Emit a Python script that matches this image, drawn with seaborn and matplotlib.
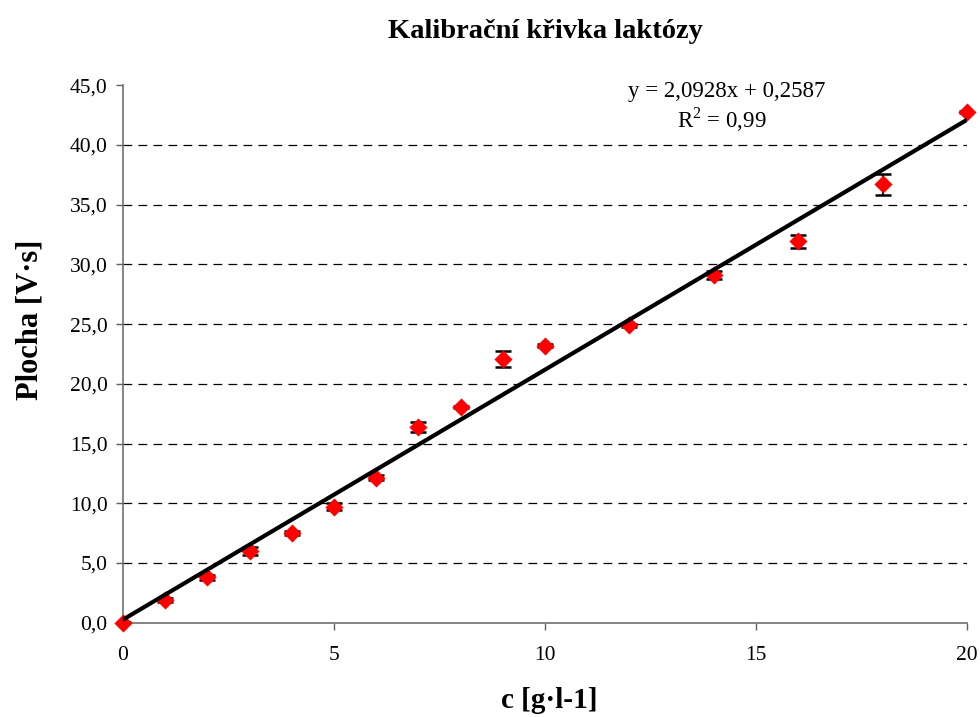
import numpy as np
import pandas as pd
import matplotlib
matplotlib.use("Agg")
import matplotlib.pyplot as plt
import seaborn as sns

# Data
conc = [0, 1, 2, 3, 4, 5, 6, 7, 8, 9, 10, 12, 14, 16, 18, 20]
area = [0.0, 1.9, 3.8, 6.0, 7.5, 9.7, 12.15, 16.4, 18.05, 22.1, 23.2, 24.9, 29.1, 31.95, 36.7, 42.75]
err = [0.1, 0.15, 0.2, 0.3, 0.15, 0.3, 0.2, 0.43, 0.1, 0.65, 0.15, 0.1, 0.35, 0.55, 0.85, 0.1]
slope = 2.0928
intercept = 0.2587
x_ticks = [0, 5, 10, 15, 20]
y_ticks = [0, 5, 10, 15, 20, 25, 30, 35, 40, 45]
title = "Kalibrační křivka laktózy"
xlabel = "c [g·l-1]"
ylabel = "Plocha [V·s]"
eq_text = "y = 2,0928x + 0,2587"
r2_text = "R$^2$ = 0,99"

sns.set_theme(style="white")
plt.rcParams['font.family'] = ['Liberation Serif', 'DejaVu Serif']
plt.rcParams['mathtext.fontset'] = 'custom'
plt.rcParams['mathtext.rm'] = 'Liberation Serif'
plt.rcParams['text.color'] = 'black'
plt.rcParams['axes.labelcolor'] = 'black'
plt.rcParams['xtick.color'] = 'black'
plt.rcParams['ytick.color'] = 'black'

df = pd.DataFrame({"c": conc, "area": area, "err": err})
fit_x = [x_ticks[0], x_ticks[-1]]
fit_df = pd.DataFrame({"c": fit_x, "y": [slope * v + intercept for v in fit_x]})

fig = plt.figure(figsize=(9.8, 7.17), dpi=100)
ax = fig.add_axes([123/980, 1 - 622.7/717, (967-123)/980, (622.7-85.3)/717])

ax.errorbar(df["c"], df["area"], yerr=df["err"], fmt="none", ecolor="black",
            elinewidth=1.5, capsize=5.5, capthick=1.8, zorder=3)
sns.scatterplot(data=df, x="c", y="area", marker="D", color="red", s=85,
                edgecolor="red", linewidth=0, ax=ax, zorder=4, clip_on=False)
sns.lineplot(data=fit_df, x="c", y="y", color="black", linewidth=3, ax=ax, zorder=5)

ax.set_xlim(0, 20)
ax.set_ylim(0, 45)
ax.set_xticks(x_ticks)
ax.set_yticks(y_ticks)
ax.set_yticklabels([f"{v:.1f}".replace(".", ",") for v in y_ticks])
ax.set_xticklabels([str(v) for v in x_ticks])
ax.tick_params(axis="both", labelsize=15.5, labelcolor="black", direction="out",
               length=5, width=1, color="#606060", left=True, bottom=True)
ax.tick_params(axis="y", pad=6)
ax.tick_params(axis="x", pad=12)

for v in y_ticks[1:-1]:
    ax.axhline(v, color="black", linestyle=(0, (7, 5)), linewidth=0.9, zorder=1)

for s in ["top", "right"]:
    ax.spines[s].set_visible(False)
for s in ["left", "bottom"]:
    ax.spines[s].set_color("#707070")
    ax.spines[s].set_linewidth(1.2)

ax.set_xlabel(xlabel, fontsize=21, fontweight="bold")
ax.set_ylabel(ylabel, fontsize=22, fontweight="bold")
ax.xaxis.label.set_va("center")
ax.yaxis.label.set_va("center")
ax.xaxis.set_label_coords((549-123)/844, (622.7-701)/537.4)
ax.yaxis.set_label_coords((30-123)/844, (622.7-320)/537.4)
fig.text(545/980, 1 - 32/717, title, fontsize=20.5, fontweight="bold",
         ha="center", va="center")
ax.text(14.3, 44.45, eq_text, fontsize=16.5, ha="center", va="center")
ax.text(14.2, 42.1, r2_text, fontsize=16.5, ha="center", va="center")

fig.savefig("out.png", dpi=100)
